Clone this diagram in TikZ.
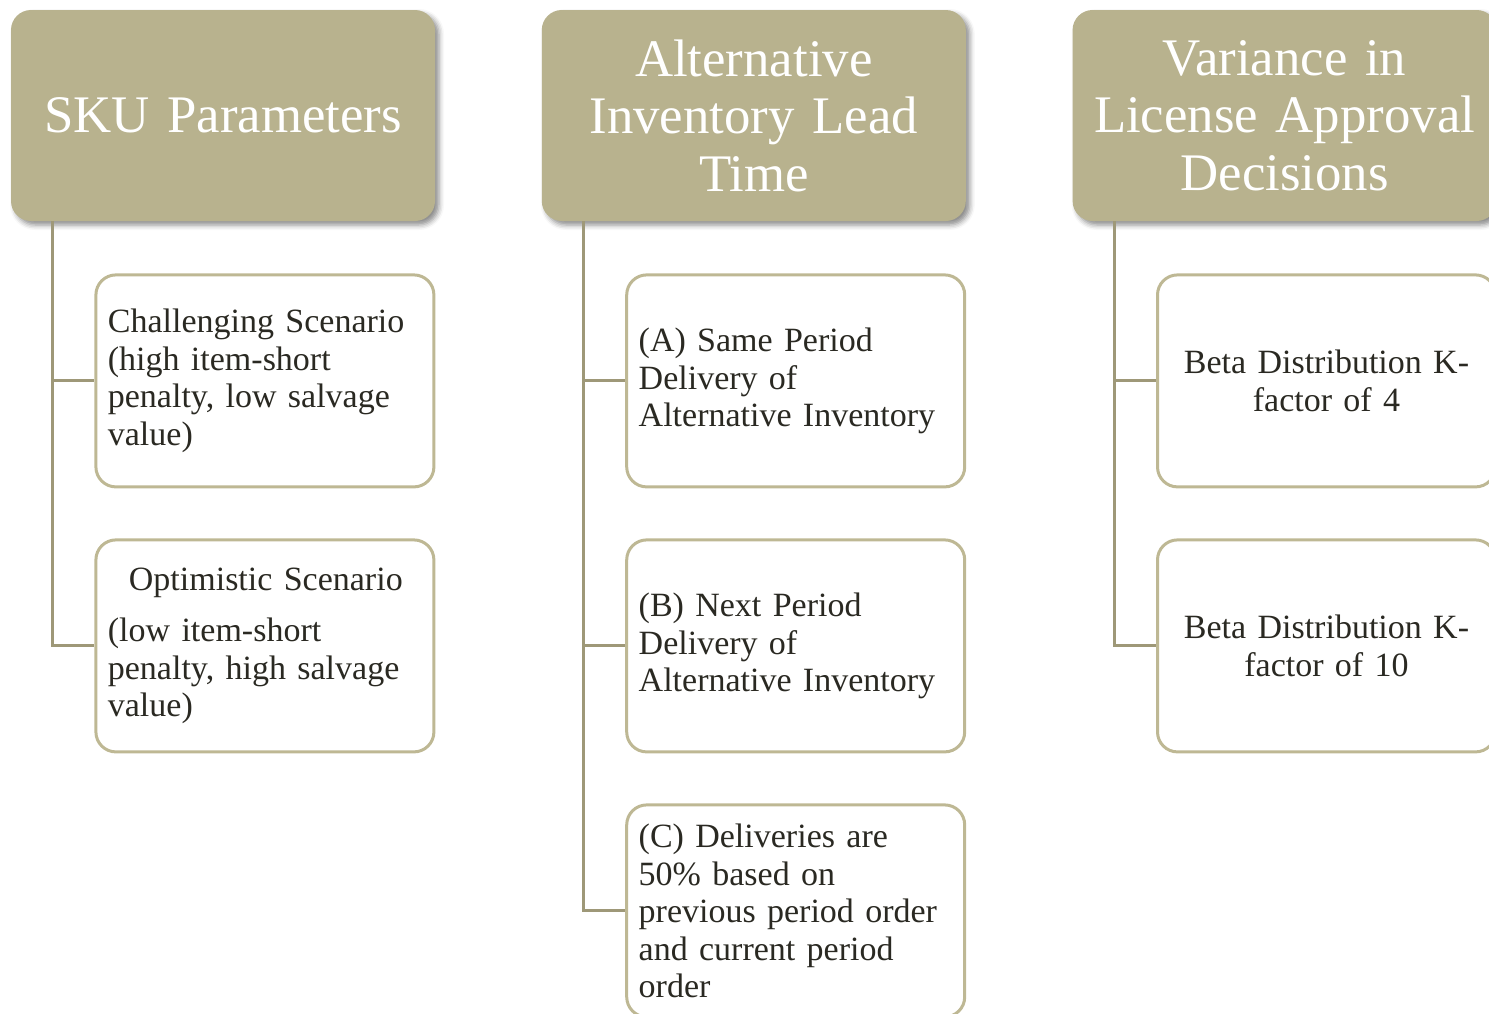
\documentclass[tikz,border=0pt]{standalone}
\usepackage{fontspec}
\setmainfont{Liberation Serif}
\usetikzlibrary{positioning,shadows.blur}
\definecolor{headfill}{HTML}{B8B28E}
\definecolor{boxline}{HTML}{BEB894}
\definecolor{linkcol}{HTML}{9E9878}
\definecolor{textdark}{HTML}{2A2922}
\begin{document}
\begin{tikzpicture}[x=0.5pt,y=-0.5pt,
					headnode/.style={rectangle,
					rounded corners=10pt,
					minimum width=212pt,
					minimum height=105.5pt,
					text width=200pt,
					align=center,
					fill=headfill,
					text=white,
					font=\fontsize{26.4}{28.75}\selectfont,
					blur shadow={shadow xshift=2pt, shadow yshift=-2pt, shadow blur radius=2.5pt, shadow opacity=45}},
					subnode/.style={rectangle,
					rounded corners=10pt,
					line width=1.5pt,
					minimum width=169pt,
					minimum height=106pt,
					text width=157pt,
					inner xsep=6pt,
					align=left,
					draw=boxline,
					fill=white,
					text=textdark,
					font=\fontsize{17}{18.75}\selectfont},
					linkline/.style={line width=1.5pt, draw=linkcol},
					node distance = 25pt
					]
\useasboundingbox (0,0) rectangle (1489,1013);
\clip (0,0) rectangle (1489,1013);

%top level
\node[headnode]  (Sku) at (223,115.5) {SKU Parameters};
\node[headnode]  (Alt) [right=53pt of Sku] {Alternative\\Inventory Lead\\Time};
\node[headnode]  (Var) [right=53pt of Alt] {Variance in\\License Approval\\Decisions};

% first column
\node[subnode]  (Chal) [below left=26pt and 0pt of Sku.south east] {Challenging Scenario\\(high item-short\\penalty, low salvage\\value)};
\node[subnode]  (Opt) [below=of Chal] {\hspace*{10.5pt}Optimistic Scenario\\[7pt](low item-short\\penalty, high salvage\\value)};

% second column
\node[subnode]  (Same) [below left=26pt and 0pt of Alt.south east] {(A) Same Period\\Delivery of\\Alternative Inventory};
\node[subnode]  (Next) [below=of Same] {(B) Next Period\\Delivery of\\Alternative Inventory};
\node[subnode]  (Half) [below=of Next] {(C) Deliveries are\\50\% based on\\previous period order\\and current period\\order};

% third column
\node[subnode, align=center]  (Kfour) [below left=26pt and 0pt of Var.south east] {Beta Distribution K-\\factor of 4};
\node[subnode, align=center]  (Kten) [below=of Kfour] {Beta Distribution K-\\factor of 10};

% Lines
\draw [linkline] ([xshift=21pt]Sku.south west) |- (Chal.west);
\draw [linkline] ([xshift=21pt]Sku.south west) |- (Opt.west);

\draw [linkline] ([xshift=21pt]Alt.south west) |- (Same.west);
\draw [linkline] ([xshift=21pt]Alt.south west) |- (Next.west);
\draw [linkline] ([xshift=21pt]Alt.south west) |- (Half.west);

\draw [linkline] ([xshift=21pt]Var.south west) |- (Kfour.west);
\draw [linkline] ([xshift=21pt]Var.south west) |- (Kten.west);

\end{tikzpicture}
\end{document}
